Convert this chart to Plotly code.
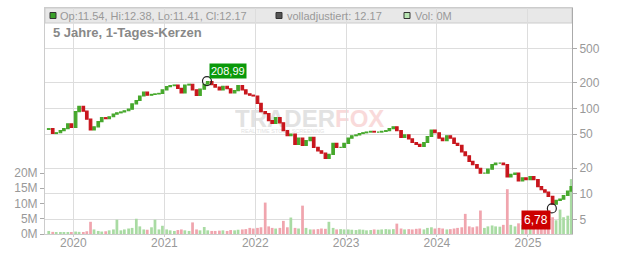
import base64
import math
import pandas as pd
import plotly.graph_objects as go

# ---------------- data ----------------
# semi-monthly closes (10th and 24th of each month)
close_2019 = [58, 51, 52, 55, 58, 66, 60]
close_2020 = [92, 106, 93, 75, 56, 61, 70, 78, 76, 80, 86, 89, 91, 94, 98, 113, 124, 140, 155, 143, 146, 148, 150, 165]
close_2021 = [180, 185, 188, 172, 152, 188, 192, 165, 142, 168, 192, 206, 190, 178, 165, 182, 170, 152, 162, 185, 165, 148, 143, 140]
close_2022 = [115, 92, 87, 72, 67, 78, 68, 55, 48, 50, 38, 45, 37, 42, 46, 35, 32, 30, 26, 29, 39, 35, 35, 39]
close_2023 = [45, 48, 49, 51, 52, 53, 54, 53, 53, 54, 55, 58, 61, 55, 46, 49, 44, 40, 38, 36, 40, 47, 56, 52]
close_2024 = [45, 42, 48, 45, 39, 37, 31, 28, 24, 22, 20, 17.5, 17.5, 19.5, 22, 23, 23, 22, 15.8, 17, 17.6, 14.2, 15.4, 14.7]
close_2025 = [16, 14.7, 12.2, 11.2, 10.5, 9.4, 7.6, 8.4, 8.7, 9.6, 10.8, 12.17]
first_open = 57

# volume in millions
vol_2019 = [1.0, 0.7, 0.6, 0.5, 0.6, 0.5, 0.6]
vol_2020 = [0.8, 0.7, 0.6, 0.9, 4.0, 1.5, 1.0, 0.8, 0.9, 1.2, 1.5, 4.7, 1.2, 1.5, 1.8, 2.0, 5.0, 2.5, 1.5, 1.4, 2.2, 4.7, 1.5, 2.7]
vol_2021 = [1.5, 1.2, 1.0, 1.3, 1.5, 1.2, 1.0, 3.8, 1.5, 1.2, 2.3, 1.2, 1.0, 1.0, 1.1, 1.2, 1.0, 1.3, 1.2, 1.4, 1.5, 1.6, 2.0, 1.8]
vol_2022 = [2.0, 2.2, 10.3, 2.5, 2.0, 1.8, 2.0, 4.3, 2.2, 5.4, 2.0, 1.8, 9.3, 2.0, 1.5, 1.5, 1.6, 1.8, 1.7, 4.0, 2.0, 1.5, 1.6, 1.5]
vol_2023 = [1.5, 1.4, 1.3, 1.5, 1.4, 1.2, 1.3, 1.5, 1.4, 1.5, 1.6, 1.5, 1.6, 3.4, 1.8, 1.5, 1.6, 1.5, 1.7, 1.8, 1.5, 2.0, 2.2, 1.8]
vol_2024 = [2.0, 1.8, 1.5, 1.6, 1.8, 2.0, 2.2, 6.6, 2.5, 2.2, 2.5, 7.7, 2.0, 2.5, 2.8, 2.5, 2.4, 3.0, 14.7, 3.0, 2.5, 3.5, 3.0, 2.8]
vol_2025 = [3.5, 3.0, 3.5, 4.0, 4.5, 5.0, 5.5, 4.5, 8.0, 5.5, 6.0, 18.0]

peak_date, peak_value, peak_label = "2021-06-21", 208.99, "208,99"
low_date, low_value, low_label = "2025-04-07", 6.78, "6,78"

year_ticks = ["2020", "2021", "2022", "2023", "2024", "2025"]
price_ticks = [5, 10, 20, 50, 100, 200, 500]
vol_ticks = [0, 5, 10, 15, 20]

header_ohlc = "Op:11.54, Hi:12.38, Lo:11.41, Cl:12.17"
header_adj = "volladjustiert: 12.17"
header_vol = "Vol: 0M"
title_text = "5 Jahre, 1-Tages-Kerzen"

# ---------------- build ----------------
closes = close_2019 + close_2020 + close_2021 + close_2022 + close_2023 + close_2024 + close_2025
vols = vol_2019 + vol_2020 + vol_2021 + vol_2022 + vol_2023 + vol_2024 + vol_2025
dates = list(pd.date_range("2019-09-15", "2025-06-15", freq="SMS") + pd.Timedelta(days=9))
n = min(len(dates), len(closes), len(vols))
dates, closes, vols = dates[:n], closes[:n], vols[:n]
opens = [first_open] + closes[:-1]

UP, DOWN = "#46a82c", "#c8161d"
VUP, VDOWN = "#a9dba3", "#f0a5ae"
is_up = [c >= o for o, c in zip(opens, closes)]
vcolors = [VUP if u else VDOWN for u in is_up]

W, H = 632, 253
L, R, T, B = 45, 60, 8, 19
PW, PH = W - L - R, H - T - B
def px(x):
    return (x - L) / PW
def py(y):
    return (H - B - y) / PH

FONT = "Liberation Sans, Arial, sans-serif"
GRAY = "#999999"
DAY = 86400000

fig = go.Figure()
fig.add_trace(go.Bar(x=dates, y=[v * 1e6 for v in vols], marker=dict(color=vcolors, line=dict(width=0)),
                     width=11 * DAY, xaxis="x", yaxis="y", showlegend=False, hoverinfo="skip"))
# candle bodies (open -> close) as bars on the log price axis
for up, col in ((True, UP), (False, DOWN)):
    xs = [d for d, u in zip(dates, is_up) if u == up]
    lo = [min(o, c) for o, c, u in zip(opens, closes, is_up) if u == up]
    hi = [max(o, c) for o, c, u in zip(opens, closes, is_up) if u == up]
    fig.add_trace(go.Bar(x=xs, base=lo, y=[h - l for h, l in zip(hi, lo)], width=10 * DAY,
                         marker=dict(color=col, line=dict(color=col, width=1.2)),
                         xaxis="x", yaxis="y2", showlegend=False, hoverinfo="skip"))
fig.add_trace(go.Scatter(x=[peak_date, low_date], y=[peak_value, low_value], mode="markers",
                         marker=dict(symbol="circle-open", size=9, color="#222", line=dict(width=1.2)),
                         xaxis="x", yaxis="y2", showlegend=False, hoverinfo="skip"))

svg = ('<svg xmlns="http://www.w3.org/2000/svg" width="150" height="30" viewBox="0 0 150 30">'
       '<text x="0" y="19" font-family="Liberation Sans, Arial" font-weight="bold" font-size="24" fill="#e2e2e2">'
       'TRADER<tspan fill="#f9dada">FOX</tspan></text>'
       '<text x="6" y="24.5" font-family="Liberation Sans, Arial" font-size="5.5" fill="#e2e2e2">REAL TIME STOCK SCREENING</text>'
       '</svg>')
src = "data:image/svg+xml;base64," + base64.b64encode(svg.encode()).decode()

shapes = [
    dict(type="rect", xref="paper", yref="paper", x0=0, x1=1, y0=py(23), y1=1,
         fillcolor="#e8e8e8", line=dict(color="#cccccc", width=1), layer="below"),
    dict(type="rect", xref="paper", yref="paper", x0=px(50), x1=px(56), y0=py(18.5), y1=py(12.5),
         fillcolor="#3aa02a", line=dict(color="#333", width=1)),
    dict(type="rect", xref="paper", yref="paper", x0=px(276), x1=px(282), y0=py(18.5), y1=py(12.5),
         fillcolor="#555555", line=dict(color="#333", width=1)),
    dict(type="rect", xref="paper", yref="paper", x0=px(404), x1=px(410), y0=py(18.5), y1=py(12.5),
         fillcolor="#b8e4b2", line=dict(color="#333", width=1)),
]

def hdr(text, x):
    return dict(text=text, xref="paper", yref="paper", x=px(x), y=py(15.5), xanchor="left", yanchor="middle",
                showarrow=False, font=dict(family=FONT, size=11, color=GRAY))

annotations = [
    hdr(header_ohlc, 57.5), hdr(header_adj, 284.5), hdr(header_vol, 412.5),
    dict(text="<b>" + title_text + "</b>", xref="paper", yref="paper", x=px(51), y=py(33),
         xanchor="left", yanchor="middle", showarrow=False, font=dict(family=FONT, size=13, color="#888888")),
    dict(text=peak_label, x=peak_date, y=math.log10(peak_value), xref="x", yref="y2", xanchor="left", yanchor="bottom",
         xshift=2, yshift=2, showarrow=False, bgcolor="#0a990a", borderpad=1,
         font=dict(family=FONT, size=11, color="white")),
    dict(text=low_label, x=low_date, y=math.log10(low_value), xref="x", yref="y2", xanchor="right", yanchor="top",
         xshift=-1, yshift=-2, showarrow=False, bgcolor="#cc0000", borderpad=2,
         font=dict(family=FONT, size=12, color="white")),
]

axfont = dict(family=FONT, size=12, color=GRAY)
fig.update_layout(
    width=W, height=H, margin=dict(l=L, r=R, t=T, b=B, autoexpand=False),
    paper_bgcolor="white", plot_bgcolor="white", showlegend=False, barmode="overlay",
    font=dict(family=FONT),
    shapes=shapes, annotations=annotations,
    images=[dict(source=src, xref="paper", yref="paper", x=px(235), y=py(108), sizex=150 / PW, sizey=30 / PH,
                 xanchor="left", yanchor="top", sizing="stretch", layer="below")],
    xaxis=dict(type="date", range=["2019-09-09", "2025-06-27"], rangeslider=dict(visible=False),
               tickvals=[y + "-01-01" for y in year_ticks], ticktext=year_ticks, automargin=False,
               showgrid=True, gridcolor="#dddddd", gridwidth=1, zeroline=False,
               ticks="outside", ticklen=2, tickcolor="#cccccc", tickfont=axfont, ticklabelstandoff=-4,
               showline=True, linecolor="#cccccc", mirror=True),
    yaxis=dict(range=[0, 74.1e6], side="left", tickvals=[v * 1e6 for v in vol_ticks], automargin=False,
               ticktext=[f"{v}M" for v in vol_ticks], showgrid=False, zeroline=False,
               ticks="outside", ticklen=4, tickcolor="#aaaaaa", tickfont=axfont,
               showline=True, linecolor="#cccccc"),
    yaxis2=dict(type="log", range=[0.532, 3.175], overlaying="y", side="right", automargin=False,
                tickvals=price_ticks, ticktext=[str(v) for v in price_ticks],
                showgrid=True, gridcolor="#dddddd", gridwidth=1, zeroline=False,
                ticks="outside", ticklen=4, tickcolor="#aaaaaa", tickfont=axfont,
                showline=True, linecolor="#aaaaaa"),
)

fig.write_html("out.html")
